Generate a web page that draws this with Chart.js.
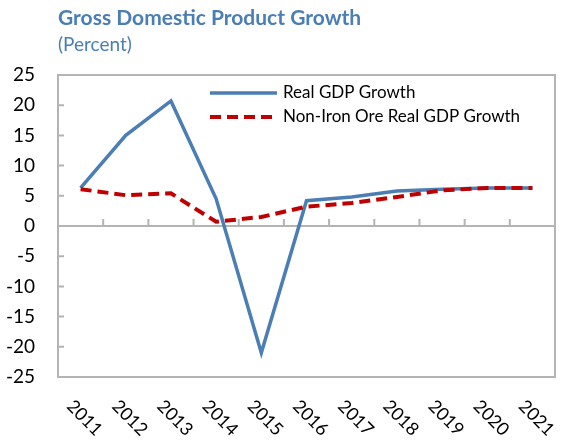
<!DOCTYPE html>
<html>
<head>
<meta charset="utf-8">
<script src="https://cdn.jsdelivr.net/npm/chart.js@4.4.0/dist/chart.umd.min.js"></script>
<style>
  html, body { margin: 0; padding: 0; background: #fff; }
  #wrap { width: 565px; height: 441px; }
</style>
</head>
<body>
<div id="wrap"><canvas id="gdpChart"></canvas></div>
<script>
// Chart data
const years = ['2011', '2012', '2013', '2014', '2015', '2016', '2017', '2018', '2019', '2020', '2021'];
const realGdpGrowth = [6.3, 15.0, 20.7, 4.5, -21.0, 4.2, 4.8, 5.8, 6.1, 6.3, 6.3];
const nonIronOreGrowth = [6.1, 5.1, 5.4, 0.7, 1.5, 3.2, 3.8, 4.8, 5.9, 6.3, 6.3];
const seriesNames = ['Real GDP Growth', 'Non-Iron Ore Real GDP Growth'];
const titleText = 'Gross Domestic Product Growth';
const subtitleText = '(Percent)';

const FONT = 'Lato, "Open Sans", sans-serif';
const axisGray = '#b4b4b4';
const blue = '#4a7eb5';
const red = '#c00000';

// Excel-style extras: box frame, inward ticks, slanted year labels, legend inside plot
const excelFrame = {
    id: 'excelFrame',
    afterDraw(chart) {
        const ctx = chart.ctx;
        const area = chart.chartArea;
        const x = chart.scales.x;
        const y = chart.scales.y;
        const zeroY = y.getPixelForValue(0);

        ctx.save();
        ctx.strokeStyle = axisGray;
        ctx.lineWidth = 2;
        ctx.strokeRect(area.left, area.top, area.right - area.left, area.bottom - area.top);

        // y ticks pointing into the plot
        ctx.beginPath();
        y.ticks.forEach(t => {
            const py = y.getPixelForValue(t.value);
            ctx.moveTo(area.left, py);
            ctx.lineTo(area.left + 6, py);
        });
        // x ticks between categories, on the zero line
        for (let i = 1; i < years.length; i++) {
            const px = (x.getPixelForValue(i - 1) + x.getPixelForValue(i)) / 2;
            ctx.moveTo(px, zeroY);
            ctx.lineTo(px, zeroY - 7);
        }
        ctx.stroke();

        // year labels slanted down to the right
        ctx.fillStyle = '#000';
        ctx.font = '18px ' + FONT;
        ctx.textAlign = 'center';
        ctx.textBaseline = 'middle';
        years.forEach((yr, i) => {
            ctx.save();
            ctx.translate(x.getPixelForValue(i) + 4, area.bottom + 41);
            ctx.rotate(Math.PI / 4);
            ctx.fillText(yr, 0, 0);
            ctx.restore();
        });

        // legend
        ctx.font = '17px ' + FONT;
        ctx.textAlign = 'left';
        chart.data.datasets.forEach((ds, i) => {
            const ly = 93 + i * 24;
            ctx.beginPath();
            ctx.strokeStyle = ds.borderColor;
            ctx.lineWidth = ds.borderWidth;
            ctx.setLineDash(ds.borderDash || []);
            ctx.moveTo(210, ly);
            ctx.lineTo(277, ly);
            ctx.stroke();
            ctx.setLineDash([]);
            ctx.fillText(ds.label, 283, ly);
        });
        ctx.restore();
    }
};

const ctx = document.getElementById('gdpChart').getContext('2d');
const gdpChart = new Chart(ctx, {
    type: 'line',
    data: {
        labels: years,
        datasets: [{
            label: seriesNames[0],
            data: realGdpGrowth,
            borderColor: blue,
            borderWidth: 3.5,
            pointRadius: 0,
            tension: 0,
            order: 1
        }, {
            label: seriesNames[1],
            data: nonIronOreGrowth,
            borderColor: red,
            borderWidth: 4,
            borderDash: [11, 6],
            pointRadius: 0,
            tension: 0,
            order: 0
        }]
    },
    options: {
        responsive: true,
        maintainAspectRatio: false,
        animation: false,
        layout: {
            padding: { left: 0, right: 10, top: 0, bottom: 0 }
        },
        plugins: {
            legend: { display: false },
            tooltip: { enabled: false },
            title: {
                display: true,
                text: titleText,
                align: 'start',
                fullSize: false,
                color: blue,
                font: { family: FONT, size: 21, weight: 'bold' },
                padding: { top: 6, bottom: 0 }
            },
            subtitle: {
                display: true,
                text: subtitleText,
                align: 'start',
                fullSize: false,
                color: blue,
                font: { family: FONT, size: 19 },
                padding: { top: 2, bottom: 19 }
            }
        },
        scales: {
            x: {
                offset: true,
                grid: { display: false },
                border: { display: false },
                ticks: { display: false },
                afterFit: scale => { scale.height = 64; }
            },
            y: {
                min: -25,
                max: 25,
                ticks: {
                    stepSize: 5,
                    padding: 23,
                    color: '#000',
                    font: { family: FONT, size: 19 }
                },
                grid: {
                    drawTicks: false,
                    lineWidth: 2,
                    color: c => (c.tick && c.tick.value === 0 ? axisGray : 'rgba(0,0,0,0)')
                },
                border: { display: true, color: axisGray, width: 2 },
                afterFit: scale => { scale.width = 58; }
            }
        }
    },
    plugins: [excelFrame]
});
</script>
</body>
</html>
